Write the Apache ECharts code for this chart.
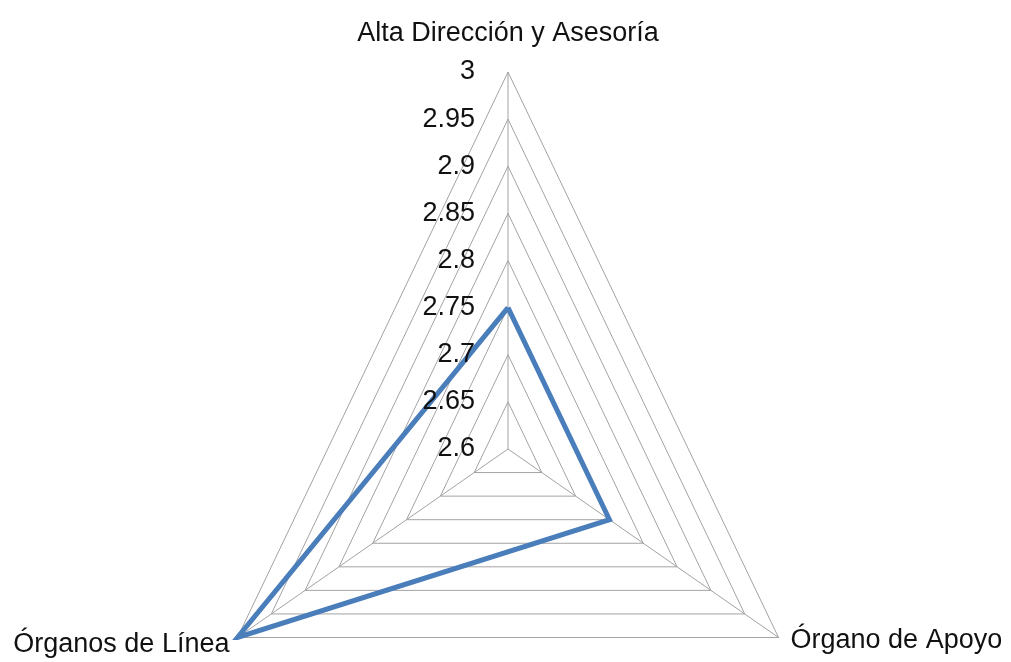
<!DOCTYPE html>
<html>
<head>
<meta charset="utf-8">
<script src="https://cdn.jsdelivr.net/npm/echarts@6/dist/echarts.min.js"></script>
<style>
  html, body { margin: 0; padding: 0; background: #fff; }
  #chart { width: 1011px; height: 662px; }
</style>
</head>
<body>
<div id="chart"></div>
<script>
// Spokes, clockwise from the top
const categories = ['Alta Dirección y Asesoría', 'Órgano de Apoyo', 'Órganos de Línea'];
const values = [2.75, 2.75, 3];
const tickLevels = [2.6, 2.65, 2.7, 2.75, 2.8, 2.85, 2.9, 2.95, 3];

const axisMin = tickLevels[0];
const axisMax = tickLevels[tickLevels.length - 1];
const span = axisMax - axisMin;

// Polar -> cartesian: the vertical axis keeps the value scale, so its
// labels double as the radial tick labels along the top spoke.
function spokePoint(v, i) {
  const ang = (90 - 120 * i) * Math.PI / 180;
  const r = v - axisMin;
  return [r * Math.cos(ang), axisMin + r * Math.sin(ang)];
}
function ring(v) {
  const pts = categories.map((_, i) => spokePoint(v, i));
  pts.push(pts[0]);
  return pts;
}

const FONT = '"Liberation Sans", Arial, sans-serif';
const TEXT = '#111111';
const gridColor = '#a3a3a3';
const gridLeft = 195.6, gridWidth = 624.8;
const series = [];

// concentric rings
tickLevels.slice(1).forEach(v => {
  series.push({
    type: 'line', data: ring(v), symbol: 'none', silent: true, z: 1,
    lineStyle: { color: gridColor, width: 1 }
  });
});
// spokes
categories.forEach((_, i) => {
  series.push({
    type: 'line', data: [spokePoint(axisMin, i), spokePoint(axisMax, i)],
    symbol: 'none', silent: true, z: 1,
    lineStyle: { color: gridColor, width: 1 }
  });
});
// data polygon
const dataPts = values.map((v, i) => spokePoint(v, i));
dataPts.push(dataPts[0]);
series.push({
  type: 'line', data: dataPts, symbol: 'none', z: 3,
  lineStyle: { color: '#4a7ebb', width: 5, join: 'miter' }
});
// spoke names at the outer vertices
const nameLabelCfg = [
  { position: 'top', distance: 25, offset: [0, 0] },
  { position: 'right', distance: 12, offset: [0, 3] },
  { position: 'left', distance: 8, offset: [0, 7] }
];
series.push({
  type: 'scatter', symbolSize: 0, silent: true, z: 4,
  itemStyle: { opacity: 1 },
  data: categories.map((name, i) => ({
    name, value: spokePoint(axisMax, i),
    label: Object.assign({
      show: true, formatter: name,
      fontFamily: FONT, fontSize: 27, color: TEXT
    }, nameLabelCfg[i])
  }))
});

const chart = echarts.init(document.getElementById('chart'));
chart.setOption({
  animation: false,
  grid: {
    left: gridLeft, width: gridWidth, top: 72, height: 565.5,
    containLabel: false, outerBoundsMode: 'none'
  },
  xAxis: {
    type: 'value', min: -span, max: span, show: false
  },
  yAxis: {
    type: 'value', min: axisMin - span / 2, max: axisMax, interval: 0.05,
    // sit the value axis on the top spoke (x = 0), labels above the data line
    offset: -gridWidth / 2,
    z: 10,
    axisLine: { show: false },
    axisTick: { show: false },
    splitLine: { show: false },
    axisLabel: {
      margin: 33,
      fontFamily: FONT, fontSize: 27, color: TEXT,
      formatter: v => (v >= axisMin - 1e-9 ? String(+v.toFixed(2)) : '')
    }
  },
  series
});
</script>
</body>
</html>
